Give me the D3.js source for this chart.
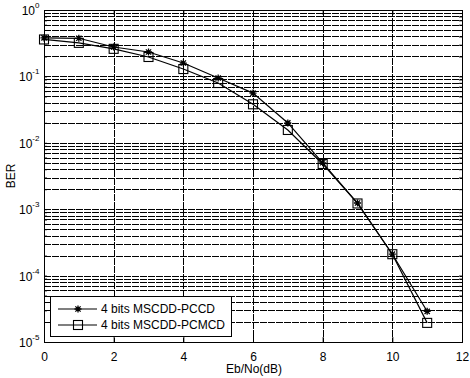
<!DOCTYPE html>
<html><head><meta charset="utf-8">
<script src="https://cdn.jsdelivr.net/npm/d3@7"></script>
<style>body{margin:0;background:#fff}svg{display:block}text{font-family:"Liberation Sans",Arial,sans-serif}</style>
</head><body><svg id="c" width="470" height="378"></svg>
<script>
const ebno = [0,1,2,3,4,5,6,7,8,9,10,11];
const berPCCD  = [0.38,0.375,0.277,0.233,0.159,0.0946,0.056,0.0199,0.0050,0.00124,0.00021,0.000029];
const berPCMCD = [0.36,0.32,0.26,0.196,0.129,0.0795,0.038,0.0156,0.0048,0.00122,0.00021,0.0000194];
const seriesNames = ["4 bits MSCDD-PCCD","4 bits MSCDD-PCMCD"];
const xTicks = [0,2,4,6,8,10,12];
const yExps = [0,-1,-2,-3,-4,-5];

const svg = d3.select("#c");
const L=44,R=462,T=10,B=342;
const FS=12;
const x = d3.scaleLinear().domain([0,12]).range([L,R]);
const y = d3.scaleLog().domain([1e-5,1]).range([B,T]);

// grid
const minor=[];
for(let e=-5;e<0;e++) for(let m=1;m<10;m++) minor.push(m*Math.pow(10,e));
minor.push(1);
const g = svg.append("g");
g.selectAll("line.h").data(minor).enter().append("line")
 .attr("x1",L).attr("x2",R).attr("y1",d=>Math.round(y(d))+0.5).attr("y2",d=>Math.round(y(d))+0.5)
 .attr("stroke","#000").attr("stroke-width",1).attr("stroke-dasharray","7,1");
g.selectAll("line.v").data(xTicks).enter().append("line")
 .attr("y1",T).attr("y2",B).attr("x1",d=>Math.round(x(d))+0.5).attr("x2",d=>Math.round(x(d))+0.5)
 .attr("stroke","#000").attr("stroke-width",1).attr("stroke-dasharray","7,1");

// frame
svg.append("rect").attr("x",L+0.5).attr("y",T+0.5).attr("width",R-L).attr("height",B-T)
 .attr("fill","none").attr("stroke","#000").attr("stroke-width",1);

// axes ticks via d3 axes
const xAxis = d3.axisBottom(x).tickValues(xTicks).tickSize(-5).tickPadding(10);
const gx = svg.append("g").attr("transform",`translate(0,${B})`).call(xAxis);
gx.select(".domain").remove();
gx.selectAll("text").attr("font-size",FS).attr("fill","#000").attr("font-family","Liberation Sans, Arial, sans-serif");
const gx2 = svg.append("g").attr("transform",`translate(0,${T})`).call(d3.axisTop(x).tickValues(xTicks).tickSize(-5).tickFormat(""));
gx2.select(".domain").remove();

const yAxis = d3.axisLeft(y).tickValues(minor).tickSize(-3).tickFormat("");
const gy = svg.append("g").attr("transform",`translate(${L},0)`).call(yAxis);
gy.select(".domain").remove();
const gyr = svg.append("g").attr("transform",`translate(${R},0)`).call(d3.axisRight(y).tickValues(minor).tickSize(-3).tickFormat(""));
gyr.select(".domain").remove();

// y labels 10^e
const yl = svg.append("g");
yExps.forEach(e=>{
  const t = yl.append("text").attr("x",L-5).attr("y",y(Math.pow(10,e))+5).attr("font-size",FS).attr("fill","#000");
  t.append("tspan").text("10");
  t.append("tspan").attr("dy",-7).attr("font-size",8).text(e);
});
yl.selectAll("text").each(function(){
  const bb=this.getBBox(); d3.select(this).attr("x",L-4-bb.width);
});

svg.append("text").attr("x",(L+R)/2+1).attr("y",373).attr("text-anchor","middle").attr("font-size",FS).text("Eb/No(dB)");
svg.append("text").attr("transform",`translate(15,${(T+B)/2}) rotate(-90)`).attr("text-anchor","middle").attr("font-size",FS).text("BER");

// lines
const line = d3.line().x((d,i)=>x(ebno[i])).y(d=>y(d));
[berPCCD,berPCMCD].forEach(s=>{
  svg.append("path").datum(s).attr("d",line).attr("fill","none").attr("stroke","#000").attr("stroke-width",1.2);
});
function star(sel,cx,cy){
  const r=3.5;
  const p=sel.append("g").attr("transform",`translate(${cx},${cy})`);
  p.append("path").attr("d",`M${-r},0H${r}M0,${-r}V${r}M${-r*0.75},${-r*0.75}L${r*0.75},${r*0.75}M${-r*0.75},${r*0.75}L${r*0.75},${-r*0.75}`)
   .attr("stroke","#000").attr("stroke-width",1.3);
}
function square(sel,cx,cy){
  sel.append("rect").attr("x",cx-4.5).attr("y",cy-4.5).attr("width",9).attr("height",9).attr("fill","none").attr("stroke","#000").attr("stroke-width",1.1);
}
const m = svg.append("g");
berPCCD.forEach((d,i)=>star(m,x(ebno[i]),y(d)));
berPCMCD.forEach((d,i)=>square(m,x(ebno[i]),y(d)));

// legend
const lg = svg.append("g");
lg.append("rect").attr("x",50.5).attr("y",296.5).attr("width",181).attr("height",40).attr("fill","#fff").attr("stroke","#000").attr("stroke-width",1);
seriesNames.forEach((n,i)=>{
  const yy = 309 + i*16;
  lg.append("line").attr("x1",58).attr("x2",97).attr("y1",yy).attr("y2",yy).attr("stroke","#000").attr("stroke-width",1.2);
  if(i===0) star(lg,78,yy); else square(lg,78,yy);
  lg.append("text").attr("x",101).attr("y",yy+4).attr("font-size",FS).text(n);
});
</script></body></html>
